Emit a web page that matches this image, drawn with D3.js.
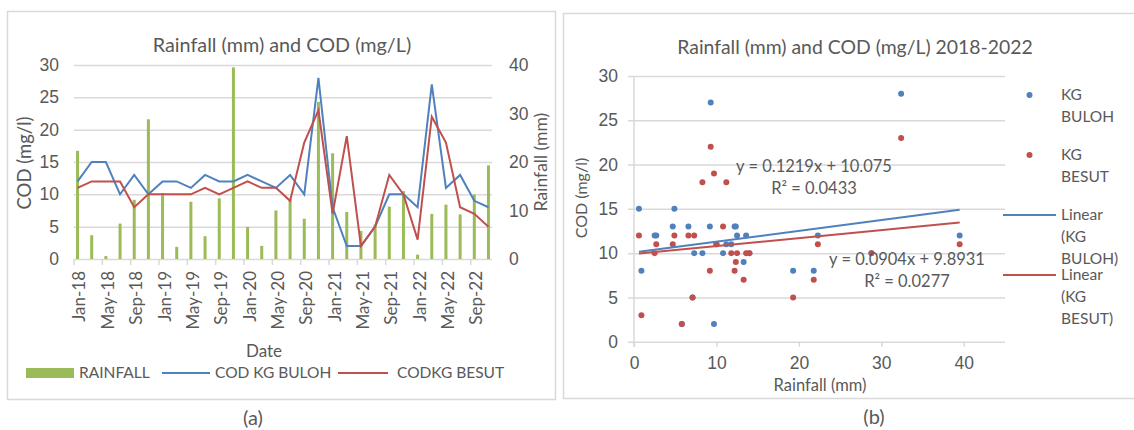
<!DOCTYPE html>
<html>
<head>
<meta charset="utf-8">
<script src="https://cdn.jsdelivr.net/npm/d3@7"></script>
<style>
  body { margin: 0; background: #fff; }
  svg { display: block; font-family: Lato, "Open Sans", sans-serif; }
  text { fill: #595959; }
</style>
</head>
<body>
<svg id="chart" width="1134" height="430"></svg>
<script>
// bimonthly samples 2018-2022
const dates = ["Jan-18","Mar-18","May-18","Jul-18","Sep-18","Nov-18",
               "Jan-19","Mar-19","May-19","Jul-19","Sep-19","Nov-19",
               "Jan-20","Mar-20","May-20","Jul-20","Sep-20","Nov-20",
               "Jan-21","Mar-21","May-21","Jul-21","Sep-21","Nov-21",
               "Jan-22","Mar-22","May-22","Jul-22","Sep-22","Nov-22"];
const rainfall = [22.3, 4.9, 0.6, 7.3, 12.2, 28.8, 13.6, 2.5, 11.8, 4.7, 12.5, 39.5,
                  6.6, 2.7, 10.0, 12.35, 8.3, 32.4, 21.8, 9.7, 5.8, 7.1, 10.8, 14.0,
                  0.9, 9.3, 11.2, 9.2, 13.3, 19.3];
const codBuloh = [12, 15, 15, 10, 13, 10, 12, 12, 11, 13, 12, 12, 13, 12, 11, 13, 10, 28,
                  8, 2, 2, 5, 10, 10, 8, 27, 11, 13, 9, 8];
const codBesut = [11, 12, 12, 12, 8, 10, 10, 10, 10, 11, 10, 11, 12, 11, 11, 9, 18, 23,
                  7, 19, 2, 5, 13, 10, 3, 22, 18, 8, 7, 5];

const codTicks = [0, 5, 10, 15, 20, 25, 30];
const rainTicks = [0, 10, 20, 30, 40];
const scatterXTicks = [0, 10, 20, 30, 40];

const trendSlopes = [0.1219, 0.0904];
const trendIntercepts = [10.075, 9.8931];
const trendR2 = ["0.0433", "0.0277"];

const blue = "#4F81BD", red = "#C0504D", green = "#9BBB59";
const grid = "#d9d9d9";
const tickFont = 17.5;

const svg = d3.select("#chart");

// panel frames
svg.append("rect").attr("x", 7.5).attr("y", 11.5).attr("width", 548).attr("height", 388)
  .attr("fill", "none").attr("stroke", grid).attr("stroke-width", 1.5);
svg.append("rect").attr("x", 563.5).attr("y", 13.5).attr("width", 600).attr("height", 385)
  .attr("fill", "none").attr("stroke", grid).attr("stroke-width", 1.5);

/* ---------- (a) time series ---------- */
const parseDate = d3.timeParse("%b-%y");
const firstDate = parseDate(dates[0]);
const monthOf = d => d3.timeMonth.count(firstDate, parseDate(d));
const nMonths = monthOf(dates[dates.length - 1]) + 1;

const xm = d3.scaleLinear().domain([0, nMonths]).range([74, 492]);
const cx = d => xm(monthOf(d) + 0.5);
const yCod = d3.scaleLinear().domain([0, 30]).range([259, 65]);
const yRain = d3.scaleLinear().domain([0, 40]).range([259, 65]);

const a = svg.append("g");

// gridlines
a.append("g")
  .attr("transform", "translate(74,0)")
  .call(d3.axisLeft(yCod).tickValues(codTicks).tickSize(-418).tickFormat(""))
  .call(g => g.select(".domain").remove())
  .call(g => g.selectAll("line").attr("stroke", grid).attr("stroke-width", 1.5));

// bottom axis ticks
a.append("g")
  .selectAll("line")
  .data(d3.range(0, nMonths + 1, 4))
  .enter()
  .append("line")
  .attr("x1", d => xm(d)).attr("x2", d => xm(d))
  .attr("y1", 259).attr("y2", 265)
  .attr("stroke", grid).attr("stroke-width", 1.5);

// left axis labels
a.append("g")
  .attr("transform", "translate(74,0)")
  .call(d3.axisLeft(yCod).tickValues(codTicks).tickSize(0).tickPadding(15))
  .call(g => g.select(".domain").remove())
  .call(g => g.selectAll("text").attr("font-size", tickFont).attr("font-family", null).attr("fill", "#595959"));

// right axis labels
a.append("g")
  .attr("transform", "translate(492,0)")
  .call(d3.axisRight(yRain).tickValues(rainTicks).tickSize(0).tickPadding(17))
  .call(g => g.select(".domain").remove())
  .call(g => g.selectAll("text").attr("font-size", tickFont).attr("font-family", null).attr("fill", "#595959"));

// x labels, every second sample
a.append("g")
  .selectAll("text")
  .data(dates.filter((d, i) => i % 2 === 0))
  .enter()
  .append("text")
  .attr("transform", d => `translate(${cx(d) + 2},271) rotate(-90)`)
  .attr("dy", "0.35em")
  .attr("text-anchor", "end")
  .attr("font-size", 17)
  .text(d => d);

// rainfall bars
a.append("g")
  .selectAll("rect")
  .data(dates)
  .enter()
  .append("rect")
  .attr("x", d => cx(d) - 1.5)
  .attr("width", 3)
  .attr("y", (d, i) => yRain(rainfall[i]))
  .attr("height", (d, i) => yRain(0) - yRain(rainfall[i]))
  .attr("fill", green);

// COD lines
const codLine = vals => d3.line()
  .x(d => cx(d))
  .y((d, i) => yCod(vals[i]))(dates);

a.append("path").attr("d", codLine(codBuloh))
  .attr("fill", "none").attr("stroke", blue).attr("stroke-width", 2);
a.append("path").attr("d", codLine(codBesut))
  .attr("fill", "none").attr("stroke", red).attr("stroke-width", 2);

// titles
a.append("text").attr("x", 282).attr("y", 45).attr("dy", "0.35em")
  .attr("text-anchor", "middle").attr("font-size", 19.8)
  .text("Rainfall (mm) and COD (mg/L)");
a.append("text").attr("transform", "translate(25,163) rotate(-90)").attr("dy", "0.35em")
  .attr("text-anchor", "middle").attr("font-size", 18.5)
  .text("COD (mg/l)");
a.append("text").attr("transform", "translate(541,162) rotate(-90)").attr("dy", "0.35em")
  .attr("text-anchor", "middle").attr("font-size", 17.5)
  .text("Rainfall (mm)");
a.append("text").attr("x", 264).attr("y", 351).attr("dy", "0.35em")
  .attr("text-anchor", "middle").attr("font-size", 17)
  .text("Date");

// legend
const legA = a.append("g").attr("font-size", 15.5);
legA.append("rect").attr("x", 26).attr("y", 368).attr("width", 48).attr("height", 10).attr("fill", green);
legA.append("text").attr("x", 79).attr("y", 373).attr("dy", "0.35em").text("RAINFALL");
legA.append("line").attr("x1", 162).attr("x2", 210).attr("y1", 373).attr("y2", 373)
  .attr("stroke", blue).attr("stroke-width", 2);
legA.append("text").attr("x", 215).attr("y", 373).attr("dy", "0.35em").text("COD KG BULOH");
legA.append("line").attr("x1", 338).attr("x2", 388).attr("y1", 373).attr("y2", 373)
  .attr("stroke", red).attr("stroke-width", 2);
legA.append("text").attr("x", 397).attr("y", 373).attr("dy", "0.35em").text("CODKG BESUT");

/* ---------- (b) scatter ---------- */
const xs = d3.scaleLinear().domain([0, 45]).range([634, 1005]);
const ys = d3.scaleLinear().domain([0, 30]).range([341.7, 76]);

const b = svg.append("g");

b.append("g")
  .attr("transform", "translate(628,0)")
  .call(d3.axisLeft(ys).tickValues(codTicks).tickSize(-(1005 - 628)).tickFormat(""))
  .call(g => g.select(".domain").remove())
  .call(g => g.selectAll("line").attr("stroke", grid).attr("stroke-width", 1.5));

b.append("line").attr("x1", 634).attr("x2", 634).attr("y1", ys(30)).attr("y2", 347)
  .attr("stroke", grid).attr("stroke-width", 1.5);

b.append("g")
  .attr("transform", `translate(0,${ys(0)})`)
  .call(d3.axisBottom(xs).tickValues(scatterXTicks).tickSize(5).tickPadding(10))
  .call(g => g.select(".domain").remove())
  .call(g => g.selectAll("line").attr("stroke", grid).attr("stroke-width", 1.5))
  .call(g => g.selectAll("text").attr("font-size", tickFont).attr("font-family", null).attr("fill", "#595959"));

b.append("g")
  .attr("transform", "translate(628,0)")
  .call(d3.axisLeft(ys).tickValues(codTicks).tickSize(0).tickPadding(10))
  .call(g => g.select(".domain").remove())
  .call(g => g.selectAll("text").attr("font-size", tickFont).attr("font-family", null).attr("fill", "#595959"));

// points
[[codBuloh, blue], [codBesut, red]].forEach(([vals, col]) => {
  b.append("g")
    .selectAll("circle")
    .data(rainfall)
    .enter()
    .append("circle")
    .attr("cx", d => xs(d))
    .attr("cy", (d, i) => ys(vals[i]))
    .attr("r", 3)
    .attr("fill", col);
});

// trendlines over the data range
const rMin = d3.min(rainfall), rMax = d3.max(rainfall);
[blue, red].forEach((col, k) => {
  b.append("line")
    .attr("x1", xs(rMin)).attr("y1", ys(trendSlopes[k] * rMin + trendIntercepts[k]))
    .attr("x2", xs(rMax)).attr("y2", ys(trendSlopes[k] * rMax + trendIntercepts[k]))
    .attr("stroke", col).attr("stroke-width", 2);
});

// equations
const eqPos = [[814, 166, 188], [907, 259, 281]];
eqPos.forEach(([x, y1, y2], k) => {
  b.append("text").attr("x", x).attr("y", y1).attr("dy", "0.35em")
    .attr("text-anchor", "middle").attr("font-size", 16.5)
    .text(`y = ${trendSlopes[k]}x + ${trendIntercepts[k]}`);
  b.append("text").attr("x", x).attr("y", y2).attr("dy", "0.35em")
    .attr("text-anchor", "middle").attr("font-size", 16.5)
    .text(`R² = ${trendR2[k]}`);
});

b.append("text").attr("x", 855).attr("y", 47).attr("dy", "0.35em")
  .attr("text-anchor", "middle").attr("font-size", 19.4)
  .text("Rainfall (mm) and COD (mg/L) 2018-2022");
b.append("text").attr("transform", "translate(581,198) rotate(-90)").attr("dy", "0.35em")
  .attr("text-anchor", "middle").attr("font-size", 16)
  .text("COD (mg/l)");
b.append("text").attr("x", 820).attr("y", 385).attr("dy", "0.35em")
  .attr("text-anchor", "middle").attr("font-size", 16.5)
  .text("Rainfall (mm)");

// legend (b)
const legB = b.append("g").attr("font-size", 15.5);
const legRows = [
  {mark: "dot", col: blue, lines: ["KG", "BULOH"], y: 95},
  {mark: "dot", col: red, lines: ["KG", "BESUT"], y: 155},
  {mark: "line", col: blue, lines: ["Linear", "(KG", "BULOH)"], y: 215},
  {mark: "line", col: red, lines: ["Linear", "(KG", "BESUT)"], y: 275}
];
legRows.forEach(r => {
  if (r.mark === "dot")
    legB.append("circle").attr("cx", 1029.5).attr("cy", r.y).attr("r", 3).attr("fill", r.col);
  else
    legB.append("line").attr("x1", 1003).attr("x2", 1056).attr("y1", r.y).attr("y2", r.y)
      .attr("stroke", r.col).attr("stroke-width", 2);
  r.lines.forEach((t, j) => {
    legB.append("text").attr("x", 1061).attr("y", r.y + j * 22).attr("dy", "0.35em").text(t);
  });
});

// panel captions
svg.append("text").attr("x", 253).attr("y", 418).attr("dy", "0.35em")
  .attr("text-anchor", "middle").attr("font-size", 20).attr("fill", "#1a1a1a").text("(a)");
svg.append("text").attr("x", 874).attr("y", 417).attr("dy", "0.35em")
  .attr("text-anchor", "middle").attr("font-size", 20).attr("fill", "#1a1a1a").text("(b)");
</script>
</body>
</html>
